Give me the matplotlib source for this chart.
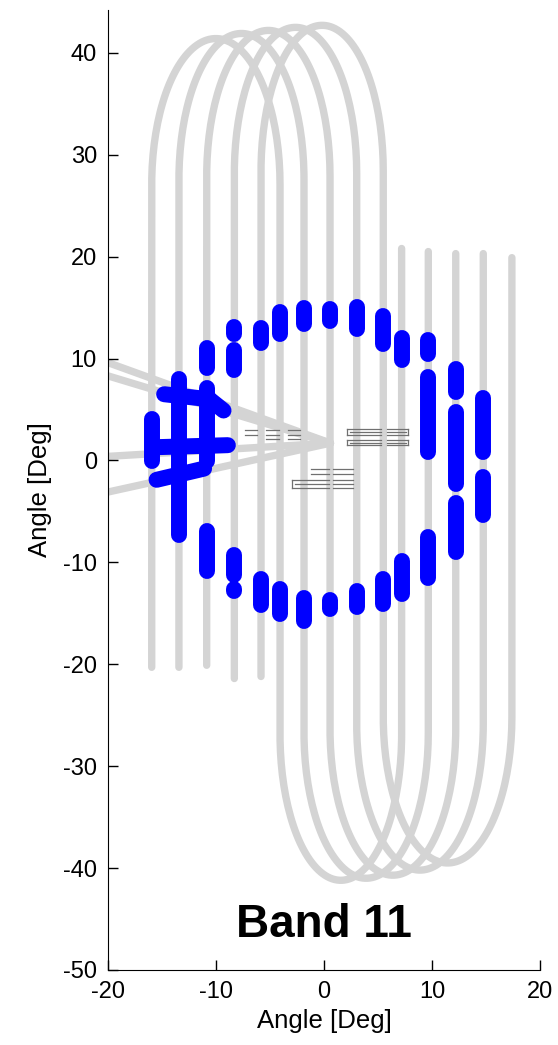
import numpy as np
import matplotlib.pyplot as plt

plt.rcParams['font.family'] = ['Liberation Sans', 'DejaVu Sans']
plt.rcParams['axes.unicode_minus'] = False

# ---- gray scan traces (5 sweeps): left leg -> top arch -> middle leg -> bottom arch -> right leg
leg_left = [-15.95, -13.43, -10.86, -8.30, -5.83]
leg_mid = [-4.07, -1.85, 0.56, 3.03, 5.49]
leg_right = [7.19, 9.66, 12.20, 14.75, 17.40]
top_peak = [41.4, 41.9, 42.2, 42.5, 42.7]
bottom_trough = [-41.2, -41.0, -40.7, -40.2, -39.5]
start_y = [-20.3, -20.3, -20.1, -21.4, -21.2]
end_y = [20.8, 20.5, 20.3, 20.3, 19.9]
arch_depth = 14.3

# ---- gray fan lines from the left edge to a common point
fan_start_y = [9.6, 8.3, 0.4, -3.1]
fan_x0 = -20.0
fan_end = (0.6, 1.7)

# ---- small dark-gray dashes (x0, x1, y) and ticks (x, y0, y1)
dash_h = [
    (-7.3, -6.2, 3.0), (-5.4, -4.2, 3.0), (-3.3, -2.2, 3.0),
    (-7.3, -6.2, 2.5), (-5.4, -4.2, 2.5), (-3.3, -2.2, 2.5),
    (-5.4, -4.2, 2.1), (-3.3, -2.2, 2.1),
    (2.1, 5.3, 3.1), (5.8, 7.8, 3.1), (2.4, 5.3, 2.75), (5.8, 7.6, 2.75),
    (2.1, 5.3, 2.45), (5.8, 7.8, 2.45),
    (2.1, 5.3, 2.0), (5.8, 7.8, 2.0), (2.4, 5.3, 1.75), (5.8, 7.6, 1.75),
    (2.1, 5.3, 1.5), (5.8, 7.8, 1.5),
    (-1.2, 0.5, -0.8), (0.8, 2.7, -0.8), (-1.2, 0.5, -1.3), (0.8, 2.7, -1.3),
    (-3.0, 0.5, -1.9), (0.8, 2.7, -1.9), (-2.7, 0.5, -2.3), (0.8, 2.7, -2.3),
    (-3.0, 0.5, -2.75), (0.8, 2.7, -2.75),
]
dash_v = [(2.1, 2.45, 3.1), (7.8, 2.45, 3.1), (2.1, 1.5, 2.0), (7.8, 1.5, 2.0),
          (-3.0, -2.75, -1.9)]

# ---- blue detections: vertical runs (x, y_top, y_bottom)
blue_x = [-10.86, -8.30, -8.30, -5.83, -5.83, -4.07, -1.85, 0.56, 3.03, 5.49, 7.19,
          9.66, 9.66, 12.20, 12.20, 12.20, 14.75, 14.75,
          -10.86, -8.30, -8.30, -5.83, -4.07, -1.85, 0.56, 0.56, 3.03, 5.49, 7.19, 9.66,
          -13.43, -10.86, -15.95]
blue_y0 = [11.0, 13.1, 10.8, 14.3, 13.0, 14.6, 15.0, 14.9, 15.1, 14.2, 12.0,
           11.8, 8.2, 9.0, 4.8, -4.2, 6.1, -1.6,
           -6.9, -9.3, -12.6, -11.6, -12.6, -13.5, -13.7, -16.2, -12.8, -11.6, -9.9, -7.5,
           8.0, 7.1, 4.1]
blue_y1 = [9.1, 12.4, 8.9, 14.3, 11.5, 12.4, 13.4, 13.7, 12.9, 11.4, 9.9,
           10.4, 0.8, 6.7, -2.3, -9.0, 0.8, -5.4,
           -10.8, -11.2, -12.8, -14.2, -15.1, -15.8, -14.6, -16.2, -14.4, -14.1, -13.1, -11.5,
           -7.3, -0.1, -0.1]
# blue detections along the fan lines (x0, y0, x1, y1)
blue_bars = [(-14.8, 6.5, -10.6, 6.0), (-10.6, 6.0, -9.3, 4.9),
             (-15.6, 1.3, -8.9, 1.5), (-15.5, -1.9, -11.1, -0.8)]

gray = '#d4d4d4'
blue = '#0000ff'

fig = plt.figure(figsize=(5.58, 10.45), dpi=100)
ax = fig.add_axes([0.1935, 0.0718, 0.7742, 0.9186])

for i in range(len(leg_left)):
    xl, xm, xr = leg_left[i], leg_mid[i], leg_right[i]
    t = np.linspace(np.pi, 0, 80)
    tx = (xl + xm) / 2 + (xm - xl) / 2 * np.cos(t)
    ty = top_peak[i] - arch_depth + arch_depth * np.sin(t)
    t2 = np.linspace(np.pi, 2 * np.pi, 80)
    bx = (xm + xr) / 2 + (xr - xm) / 2 * np.cos(t2)
    by = bottom_trough[i] + arch_depth + arch_depth * np.sin(t2)
    xs = np.concatenate([[xl], tx, bx, [xr]])
    ys = np.concatenate([[start_y[i]], ty, by, [end_y[i]]])
    ax.plot(xs, ys, color=gray, lw=5.3, solid_capstyle='round', zorder=1)

for y0 in fan_start_y:
    ax.plot([fan_x0, fan_end[0]], [y0, fan_end[1]], color=gray, lw=5.3,
            solid_capstyle='round', zorder=1)

for x0, x1, y in dash_h:
    ax.plot([x0, x1], [y, y], color='#707070', lw=0.9, zorder=2)
for x, y0, y1 in dash_v:
    ax.plot([x, x], [y0, y1], color='#707070', lw=0.9, zorder=2)

for x, y0, y1 in zip(blue_x, blue_y0, blue_y1):
    ax.plot([x, x], [y0, y1], color=blue, lw=11.5, solid_capstyle='round', zorder=3)
for x0, y0, x1, y1 in blue_bars:
    ax.plot([x0, x1], [y0, y1], color=blue, lw=11.5, solid_capstyle='round', zorder=3)

ax.text(0, -45.6, 'Band 11', ha='center', va='center', fontsize=33, fontweight='bold')

ax.set_xlim(-20, 20)
ax.set_ylim(-50, 44.2)
ax.set_xticks([-20, -10, 0, 10, 20])
ax.set_yticks(range(-50, 41, 10))
ax.spines['top'].set_visible(False)
ax.spines['right'].set_visible(False)
ax.tick_params(direction='in', length=7, width=1, labelsize=17, pad=8)
ax.set_xlabel('Angle [Deg]', fontsize=18.5, labelpad=4)
ax.set_ylabel('Angle [Deg]', fontsize=18.5, labelpad=8)

fig.savefig('out.png', dpi=100)
